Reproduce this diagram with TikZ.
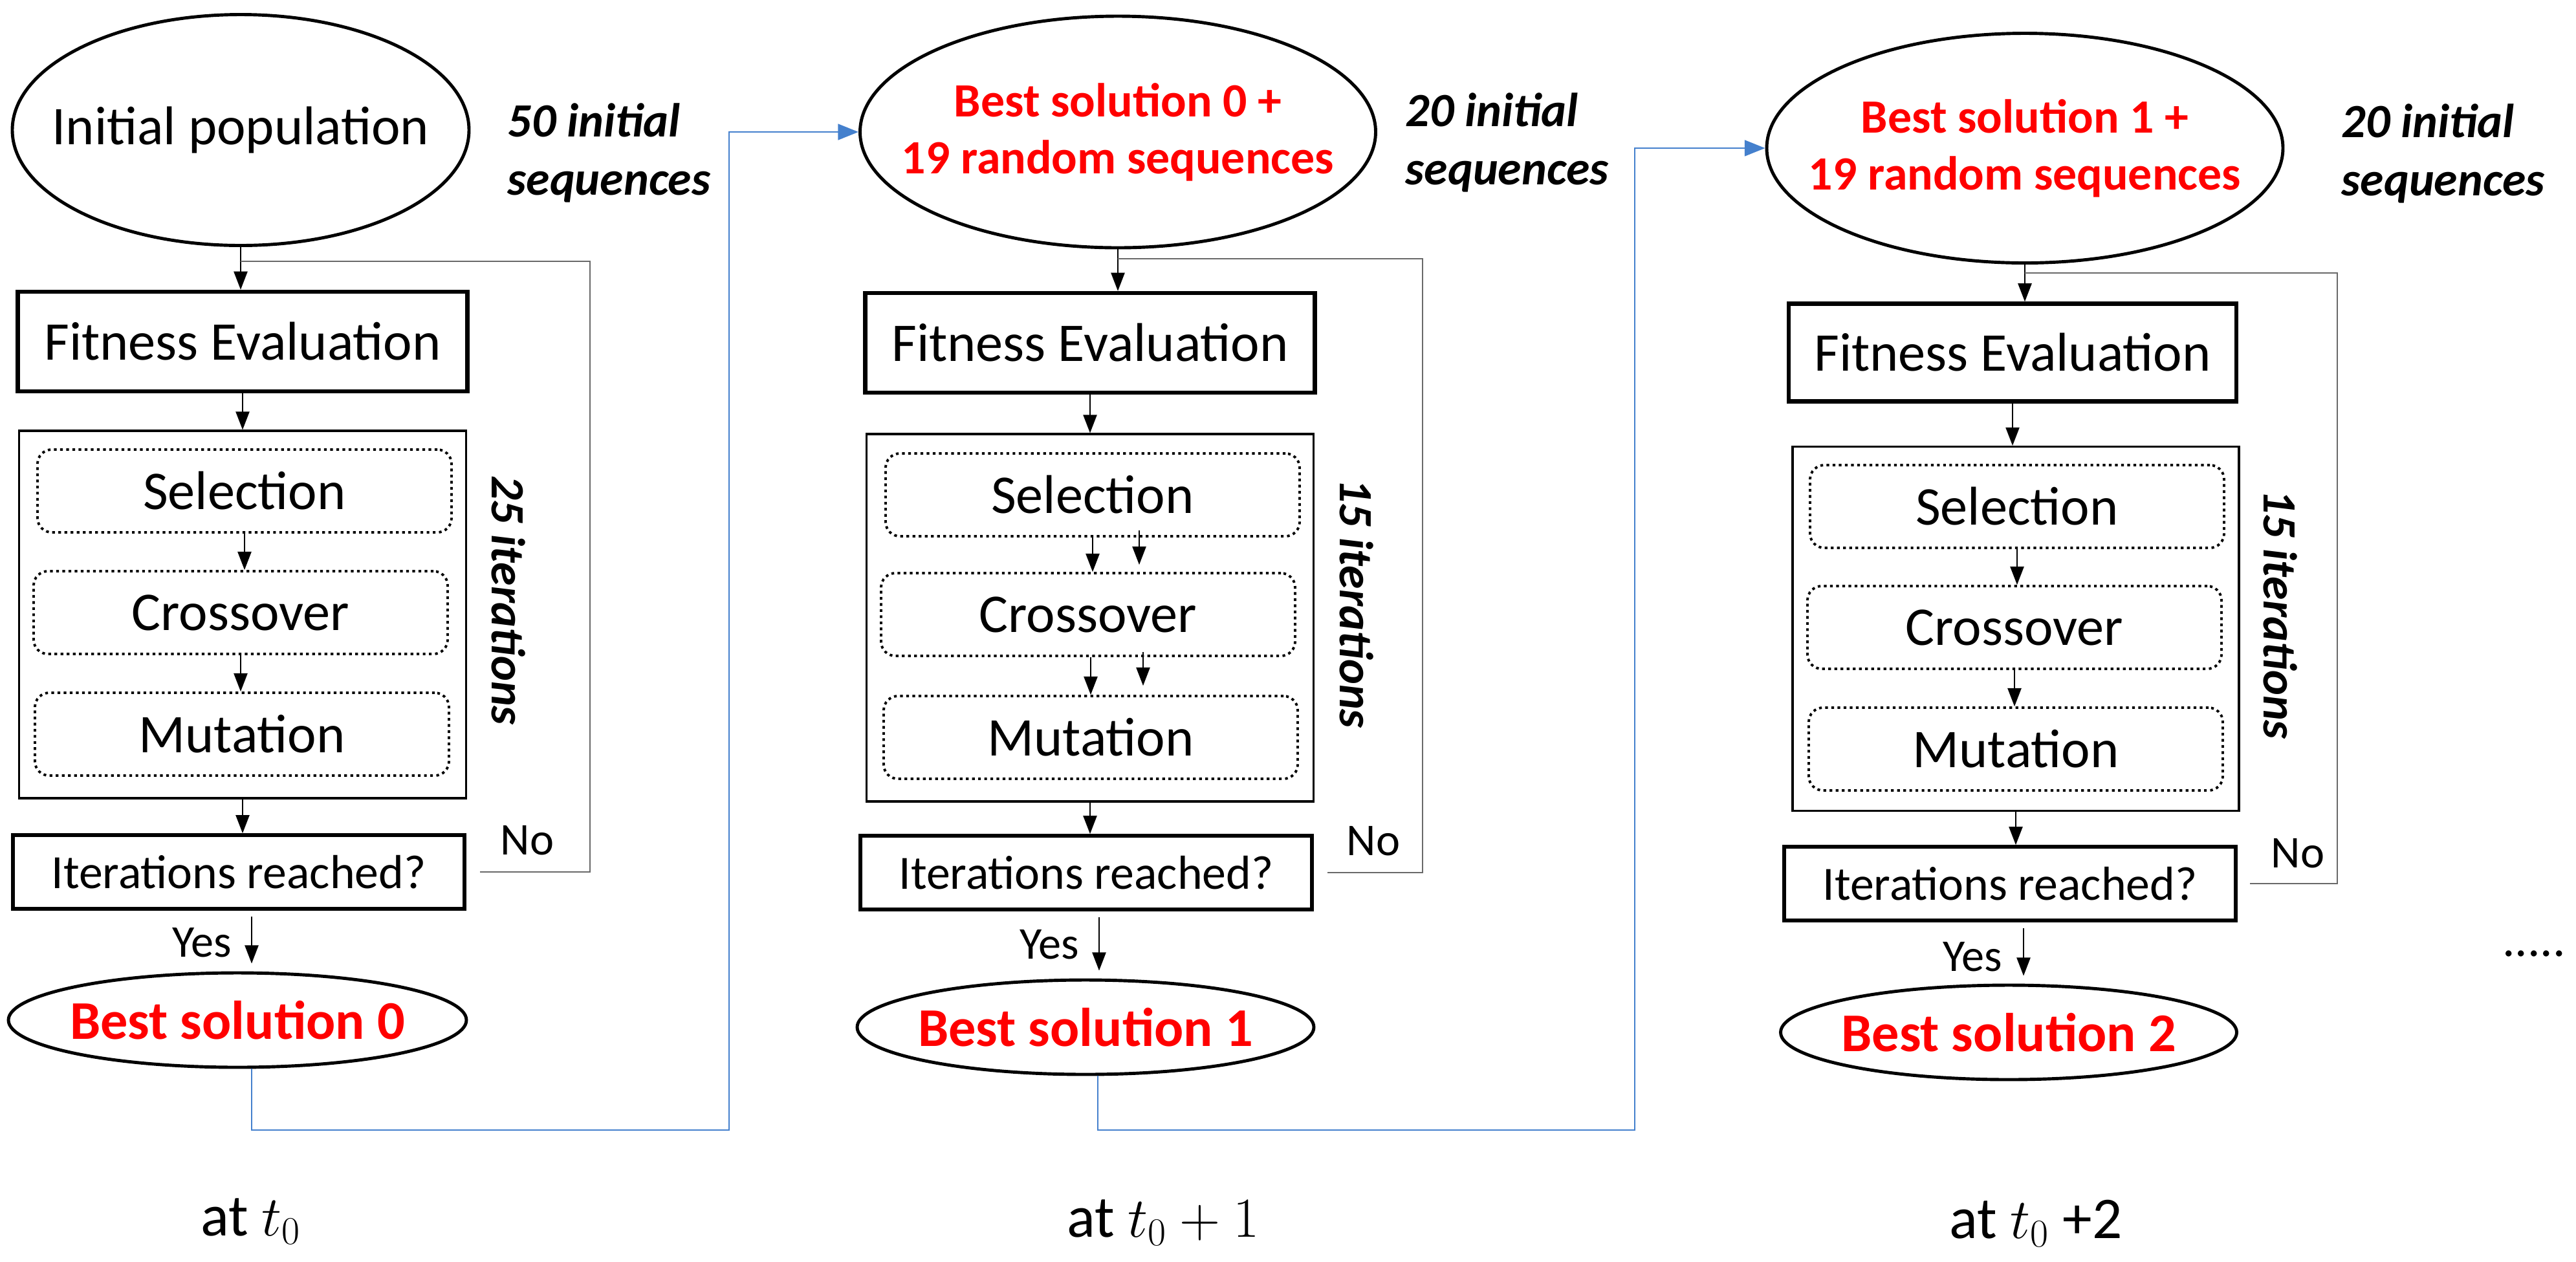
\documentclass[tikz,border=0pt]{standalone}
\usepackage{fontspec}
\setmainfont{Carlito}
\usepackage{tikz}
\usetikzlibrary{arrows.meta}
\usetikzlibrary{shapes.geometric}
\usetikzlibrary{calc}
\definecolor{linkblue}{RGB}{68,128,205}
\definecolor{backgray}{RGB}{105,105,105}
\newcommand{\nowide}[1]{\makebox[0pt]{#1}}
\tikzset{flow/.style = {-{Triangle[length=8pt, width=6pt]}, line width=0.6pt}}
\tikzset{link/.style = {-{Triangle[length=9pt, width=7pt]}, line width=0.8pt, draw=linkblue}}
\tikzset{back/.style = {line width=0.8pt, draw=backgray}}
\tikzset{ell/.style = {draw, ellipse, line width=1.4pt, inner sep=0, align=center}}
\tikzset{fitbox/.style = {draw, line width=1.8pt, inner sep=0, minimum width=6.95cm, minimum height=1.54cm,
                          font=\fontsize{24}{29}\selectfont}}
\tikzset{loopbox/.style = {draw, line width=0.9pt, inner sep=0, minimum width=6.91cm, minimum height=5.68cm}}
\tikzset{opbox/.style = {draw, rounded corners=0.22cm, line width=1.1pt, dash pattern=on 1.2pt off 1.5pt,
                         inner sep=0, minimum width=6.4cm, minimum height=1.28cm, font=\fontsize{24}{29}\selectfont}}
\tikzset{checkbox/.style = {draw, line width=1.6pt, inner sep=0, minimum width=6.98cm, minimum height=1.14cm,
                            font=\fontsize{21}{25}\selectfont}}
\tikzset{note/.style = {align=left, inner sep=0, anchor=west, font=\bfseries\itshape\fontsize{21}{25.6}\selectfont}}
\tikzset{itercount/.style = {rotate=-90, inner sep=0, font=\bfseries\itshape\fontsize{21}{25}\selectfont}}
\tikzset{best/.style = {text=red, font=\bfseries\fontsize{24}{29}\selectfont}}
\tikzset{seeds/.style = {text=red, font=\bfseries\fontsize{21}{25}\selectfont}}
\tikzset{yesno/.style = {inner sep=0, font=\fontsize{20}{24}\selectfont}}
\tikzset{stamp/.style = {inner sep=0, anchor=base, font=\fontsize{26}{31}\selectfont}}

\begin{document}
\begin{tikzpicture}[y=-1cm]
  \useasboundingbox (0, 0) rectangle (39.82, 19.5);

  % column 1
  \node [ell, minimum width=7.06cm, minimum height=3.57cm, font=\fontsize{24}{29}\selectfont] (popA) at (3.72, 2.01) {\nowide{Initial population}};
  \node [note] (seqA) at (7.84, 2.36) {50 initial\\sequences};
  \node [fitbox] (fitA) at (3.75, 5.28) {Fitness Evaluation};
  \node [loopbox] (loopA) at (3.75, 9.50) {};
  \node [opbox] (selA) at (3.78, 7.59) {Selection};
  \node [opbox] (croA) at (3.72, 9.47) {Crossover};
  \node [opbox] (mutA) at (3.74, 11.35) {Mutation};
  \node [itercount] (itA) at (7.86, 9.28) {25 iterations};
  \node [checkbox] (chkA) at (3.69, 13.48) {Iterations reached?};
  \node [yesno] (noA) at (8.15, 12.99) {No};
  \node [yesno, anchor=east] (yesA) at (3.59, 14.57) {Yes};
  \node [ell, best, minimum width=7.08cm, minimum height=1.46cm] (bestA) at (3.67, 15.77) {\nowide{Best solution 0}};
  \node [stamp] (timeA) at (3.88, 19.10) {at $t_0$};
  \coordinate (turnA) at (9.12, 4.04);
  \coordinate (riseA) at (11.27, 17.47);

  \draw [flow] (popA.south) -- (popA.south |- fitA.north);
  \draw [flow] (fitA.south) -- (fitA.south |- loopA.north);
  \draw [flow] (selA.south) -- (selA.south |- croA.north);
  \draw [flow] (croA.south) -- (croA.south |- mutA.north);
  \draw [flow] (loopA.south) -- (loopA.south |- chkA.north);
  \draw [flow, shorten <=0.09cm, shorten >=0.12cm] ([xshift=0.2cm]chkA.south) -- ([xshift=0.2cm]chkA.south |- bestA.north);
  \draw [back] ([xshift=0.21cm]chkA.east) -| (turnA) -- (turnA -| popA.south);

  % column 2
  \node [ell, seeds, minimum width=7.97cm, minimum height=3.58cm] (popB) at (17.28, 2.04) {\nowide{Best solution 0 +}\\\nowide{19 random sequences}};
  \node [note] (seqB) at (21.72, 2.20) {20 initial\\sequences};
  \node [fitbox] (fitB) at (16.85, 5.30) {Fitness Evaluation};
  \node [loopbox] (loopB) at (16.85, 9.55) {};
  \node [opbox] (selB) at (16.89, 7.65) {Selection};
  \node [opbox] (croB) at (16.82, 9.50) {Crossover};
  \node [opbox] (mutB) at (16.86, 11.40) {Mutation};
  \node [itercount] (itB) at (20.97, 9.33) {15 iterations};
  \node [checkbox] (chkB) at (16.79, 13.49) {Iterations reached?};
  \node [yesno] (noB) at (21.23, 13.00) {No};
  \node [yesno, anchor=east] (yesB) at (16.69, 14.60) {Yes};
  \node [ell, best, minimum width=7.06cm, minimum height=1.46cm] (bestB) at (16.78, 15.88) {\nowide{Best solution 1}};
  \node [stamp] (timeB) at (17.98, 19.12) {at $t_0 + 1$};
  \coordinate (turnB) at (21.99, 4.00);
  \coordinate (riseB) at (25.27, 17.47);

  \draw [flow] (popB.south) -- (popB.south |- fitB.north);
  \draw [flow] (fitB.south) -- (fitB.south |- loopB.north);
  \draw [flow] (selB.south) -- (selB.south |- croB.north);
  \draw [flow] ($(selB.south) + (0.72, -0.11)$) -- ($(selB.south |- croB.north) + (0.72, -0.11)$);
  \draw [flow] (croB.south -| mutB.north) -- (mutB.north);
  \draw [flow] ($(croB.south) + (0.85, -0.08)$) -- ($(croB.south |- mutB.north) + (0.85, -0.14)$);
  \draw [flow] (loopB.south) -- (loopB.south |- chkB.north);
  \draw [flow, shorten <=0.09cm, shorten >=0.12cm] ([xshift=0.2cm]chkB.south) -- ([xshift=0.2cm]chkB.south |- bestB.north);
  \draw [back] ([xshift=0.21cm]chkB.east) -| (turnB) -- (turnB -| popB.south);

  % column 3
  \node [ell, seeds, minimum width=7.98cm, minimum height=3.55cm] (popC) at (31.30, 2.29) {\nowide{Best solution 1 +}\\\nowide{19 random sequences}};
  \node [note] (seqC) at (36.19, 2.37) {20 initial\\sequences};
  \node [fitbox, minimum width=6.92cm, minimum height=1.51cm] (fitC) at (31.11, 5.45) {Fitness Evaluation};
  \node [loopbox, minimum width=6.90cm, minimum height=5.63cm] (loopC) at (31.16, 9.72) {};
  \node [opbox] (selC) at (31.18, 7.83) {Selection};
  \node [opbox] (croC) at (31.14, 9.70) {Crossover};
  \node [opbox] (mutC) at (31.16, 11.58) {Mutation};
  \node [itercount] (itC) at (35.25, 9.50) {15 iterations};
  \node [checkbox] (chkC) at (31.07, 13.66) {Iterations reached?};
  \node [yesno] (noC) at (35.52, 13.19) {No};
  \node [yesno, anchor=east] (yesC) at (30.96, 14.79) {Yes};
  \node [ell, best, minimum width=7.05cm, minimum height=1.46cm] (bestC) at (31.05, 15.96) {\nowide{Best solution 2}};
  \node [stamp] (timeC) at (31.47, 19.14) {at $t_0$ +2};
  \node [stamp, font=\fontsize{22}{26}\selectfont] (more) at (39.17, 14.78) {.....};
  \coordinate (turnC) at (36.13, 4.22);

  \draw [flow] (popC.south) -- (popC.south |- fitC.north);
  \draw [flow] (fitC.south) -- (fitC.south |- loopC.north);
  \draw [flow] (selC.south) -- (selC.south |- croC.north);
  \draw [flow] (croC.south) -- (croC.south |- mutC.north);
  \draw [flow] (loopC.south) -- (loopC.south |- chkC.north);
  \draw [flow, shorten <=0.09cm, shorten >=0.12cm] ([xshift=0.21cm]chkC.south) -- ([xshift=0.21cm]chkC.south |- bestC.north);
  \draw [back] ([xshift=0.19cm]chkC.east) -| (turnC) -- (turnC -| popC.south);

  % links between runs
  \draw [link] ([xshift=0.22cm]bestA.south) |- (riseA) |- (popB.west);
  \draw [link] ([xshift=0.19cm]bestB.south) |- (riseB) |- (popC.west);
\end{tikzpicture}
\end{document}
